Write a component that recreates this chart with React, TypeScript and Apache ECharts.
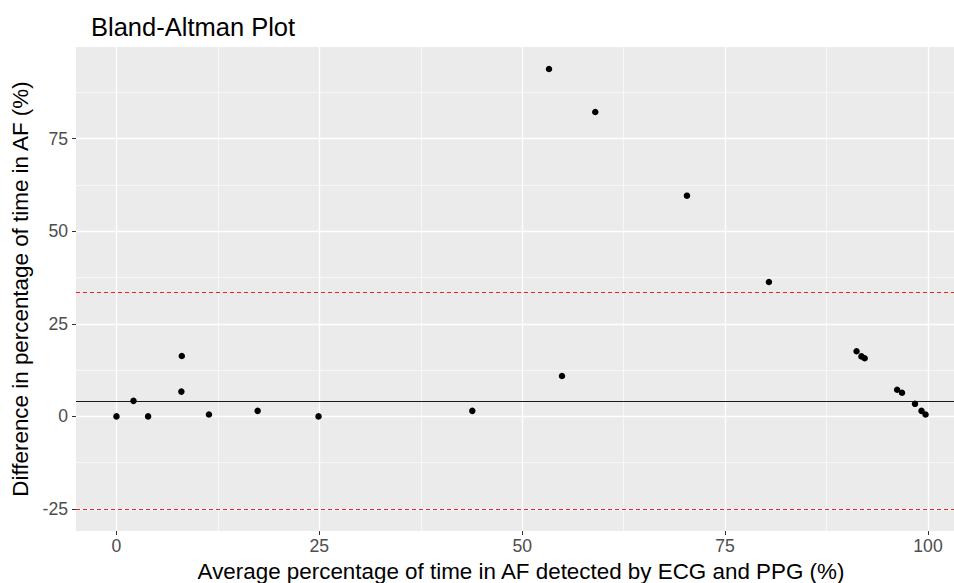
import React, { useEffect, useRef } from "react";
import * as echarts from "echarts";

// Data
const avgPercent = [0, 2.1, 3.9, 8.0, 8.05, 11.4, 17.4, 24.9, 43.85, 54.9, 53.3, 59.0, 70.3, 80.4, 91.2, 91.8, 92.2, 96.2, 96.8, 98.4, 99.2, 99.7];
const diffPercent = [0, 4.2, 0, 6.7, 16.3, 0.5, 1.5, 0, 1.5, 10.9, 93.8, 82.2, 59.6, 36.3, 17.6, 16.2, 15.7, 7.2, 6.4, 3.4, 1.5, 0.5];
const meanDiff = 4.2;
const upperLoA = 33.4;
const lowerLoA = -24.95;

const xTicks = [0, 25, 50, 75, 100];
const yTicks = [-25, 0, 25, 50, 75];
const xMinorGrid = [12.5, 37.5, 62.5, 87.5];
const yMinorGrid = [-12.5, 12.5, 37.5, 62.5, 87.5];

const xRange = [-4.985, 104.685];
const yRange = [-30.94, 99.74];

const FONT = "'Liberation Sans', Arial, Helvetica, sans-serif";

export default function App() {
  const ref = useRef<HTMLDivElement>(null);
  useEffect(() => {
    if (!ref.current) return;
    const chart = echarts.init(ref.current, undefined, { renderer: "svg" });
    const gridLine = (val: number, axis: "x" | "y", width: number) =>
      axis === "x"
        ? { xAxis: val, lineStyle: { color: "#FFFFFF", width, type: "solid" } }
        : { yAxis: val, lineStyle: { color: "#FFFFFF", width, type: "solid" } };
    const points = avgPercent.map((x, i) => [x, diffPercent[i]]);
    chart.setOption({
      animation: false,
      backgroundColor: "#FFFFFF",
      title: {
        text: "Bland-Altman Plot",
        left: 86,
        top: 9,
        textStyle: { fontFamily: FONT, fontSize: 25.5, fontWeight: "normal", color: "#000000" },
      },
      grid: {
        left: 76,
        right: 0,
        top: 47,
        bottom: 52,
        show: true,
        backgroundColor: "#EBEBEB",
        borderWidth: 0,
        containLabel: false,
        outerBoundsMode: "none",
      },
      xAxis: {
        type: "value",
        min: xRange[0],
        max: xRange[1],
        name: "Average percentage of time in AF detected by ECG and PPG (%)",
        nameLocation: "middle",
        nameGap: 29,
        nameTextStyle: { fontFamily: FONT, fontSize: 22.4, color: "#000000" },
        axisLine: { show: false, onZero: false },
        axisTick: { show: true, customValues: xTicks, length: 4, lineStyle: { color: "#333333", width: 1 } },
        axisLabel: { customValues: xTicks, margin: 6, fontFamily: FONT, fontSize: 17.6, color: "#4D4D4D", lineHeight: 18 },
        splitLine: { show: false },
      },
      yAxis: {
        type: "value",
        min: yRange[0],
        max: yRange[1],
        name: "Difference in percentage of time in AF (%)",
        nameLocation: "middle",
        nameGap: 42,
        nameTextStyle: { fontFamily: FONT, fontSize: 22.4, color: "#000000" },
        axisLine: { show: false, onZero: false },
        axisTick: { show: true, customValues: yTicks, length: 4, lineStyle: { color: "#333333", width: 1 } },
        axisLabel: { customValues: yTicks, margin: 8, fontFamily: FONT, fontSize: 17.6, color: "#4D4D4D" },
        splitLine: { show: false },
      },
      series: [
        {
          type: "scatter",
          data: [],
          z: 1,
          silent: true,
          markLine: {
            z: 1,
            silent: true,
            symbol: "none",
            label: { show: false },
            emphasis: { disabled: true },
            data: [
              ...xMinorGrid.map((v) => gridLine(v, "x", 0.6)),
              ...yMinorGrid.map((v) => gridLine(v, "y", 0.6)),
              ...xTicks.map((v) => gridLine(v, "x", 1.3)),
              ...yTicks.map((v) => gridLine(v, "y", 1.3)),
            ],
          },
        },
        {
          type: "scatter",
          data: [],
          z: 2,
          silent: true,
          markLine: {
            z: 2,
            silent: true,
            symbol: "none",
            label: { show: false },
            emphasis: { disabled: true },
            lineStyle: { color: "#E8262A", width: 1, type: [4, 3] },
            data: [
              { yAxis: meanDiff, lineStyle: { color: "#1A1A1A", width: 1.1, type: "solid" } },
              { yAxis: upperLoA, lineStyle: { color: "#E8262A", width: 1, type: [4, 3] } },
              { yAxis: lowerLoA, lineStyle: { color: "#E8262A", width: 1, type: [4, 3] } },
            ],
          },
        },
        {
          type: "scatter",
          z: 10,
          data: points,
          symbol: "circle",
          symbolSize: 6.5,
          itemStyle: { color: "#000000", opacity: 1 },
        },
      ],
    });
    return () => chart.dispose();
  }, []);
  return <div ref={ref} style={{ position: "fixed", left: 0, top: 0, width: 966, height: 583 }} />;
}
